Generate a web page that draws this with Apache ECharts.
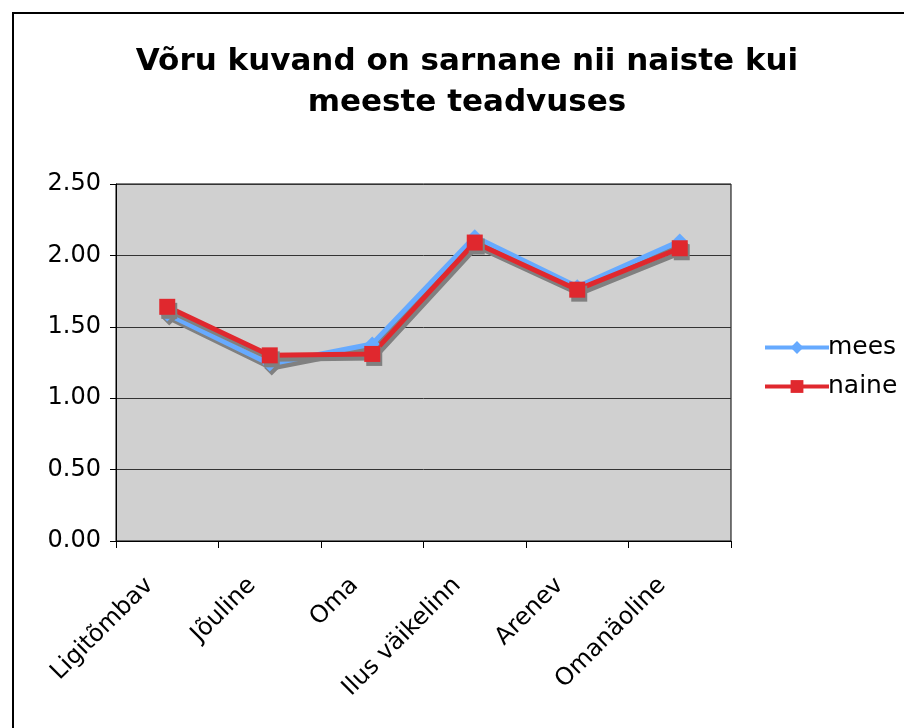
<!DOCTYPE html>
<html>
<head>
<meta charset="utf-8">
<script src="https://cdn.jsdelivr.net/npm/echarts@6/dist/echarts.min.js"></script>
<style>
html, body { margin: 0; padding: 0; background: #fff; }
#frame { position: absolute; left: 12px; top: 12px; width: 900px; height: 730px; border: 2px solid #000; box-sizing: border-box; }
#chart { position: absolute; left: 0; top: 0; width: 904px; height: 728px; }
</style>
</head>
<body>
<div id="frame"></div>
<div id="chart"></div>
<script>
var categories = ['Ligitõmbav', 'Jõuline', 'Oma', 'Ilus väikelinn', 'Arenev', 'Omanäoline'];
var mees = [1.59, 1.24, 1.38, 2.13, 1.78, 2.10];
var naine = [1.64, 1.30, 1.31, 2.09, 1.76, 2.05];
var yTicks = [0, 0.5, 1, 1.5, 2, 2.5];

var font = 'DejaVu Sans';
var myChart = echarts.init(document.getElementById('chart'));

function lineSeries(name, data, color, symbol, size) {
	return {
		name: name,
		type: 'line',
		data: data,
		symbol: symbol,
		symbolSize: size,
		lineStyle: {
			width: 5,
			color: color,
			shadowColor: '#808080',
			shadowOffsetX: 2,
			shadowOffsetY: 4,
			shadowBlur: 0
		},
		itemStyle: {
			color: color,
			shadowColor: '#808080',
			shadowOffsetX: 2,
			shadowOffsetY: 4,
			shadowBlur: 0
		}
	};
}

myChart.setOption({
	animation: false,
	title: {
		text: 'Võru kuvand on sarnane nii naiste kui\nmeeste teadvuses',
		left: 462,
		textAlign: 'center',
		top: 36,
		textStyle: {
			fontFamily: font,
			fontSize: 31,
			fontWeight: 'bold',
			color: '#000',
			lineHeight: 41
		}
	},
	grid: {
		left: 116,
		top: 184,
		width: 615,
		height: 357,
		show: true,
		backgroundColor: '#d0d0d0',
		borderColor: '#000',
		borderWidth: 1
	},
	legend: {
		orient: 'vertical',
		left: 758,
		top: 330,
		itemWidth: 64,
		itemHeight: 16,
		itemGap: 14,
		lineStyle: { width: 4 },
		textStyle: { fontFamily: font, fontSize: 25, color: '#000', padding: [0, 0, 0, -6] },
		data: ['mees', 'naine']
	},
	xAxis: {
		type: 'category',
		data: categories,
		boundaryGap: true,
		axisLine: { lineStyle: { color: '#000', width: 1 } },
		axisTick: { show: true, length: 7, lineStyle: { color: '#000' } },
		axisLabel: {
			rotate: 45,
			interval: 0,
			margin: 23,
			padding: [0, 25, 0, 0],
			fontFamily: font,
			fontSize: 24,
			color: '#000'
		}
	},
	yAxis: {
		type: 'value',
		min: yTicks[0],
		max: yTicks[yTicks.length - 1],
		interval: 0.5,
		axisLine: { show: true, lineStyle: { color: '#000' } },
		axisTick: { show: true, length: 6, inside: false, lineStyle: { color: '#000' } },
		splitLine: { lineStyle: { color: '#333', width: 1 } },
		axisLabel: {
			margin: 15,
			fontFamily: font,
			fontSize: 24,
			color: '#000',
			formatter: function (v) { return v.toFixed(2); }
		}
	},
	series: [
		lineSeries('mees', mees, '#66aaff', 'diamond', 15),
		lineSeries('naine', naine, '#e0282e', 'rect', 16)
	]
});
</script>
</body>
</html>
